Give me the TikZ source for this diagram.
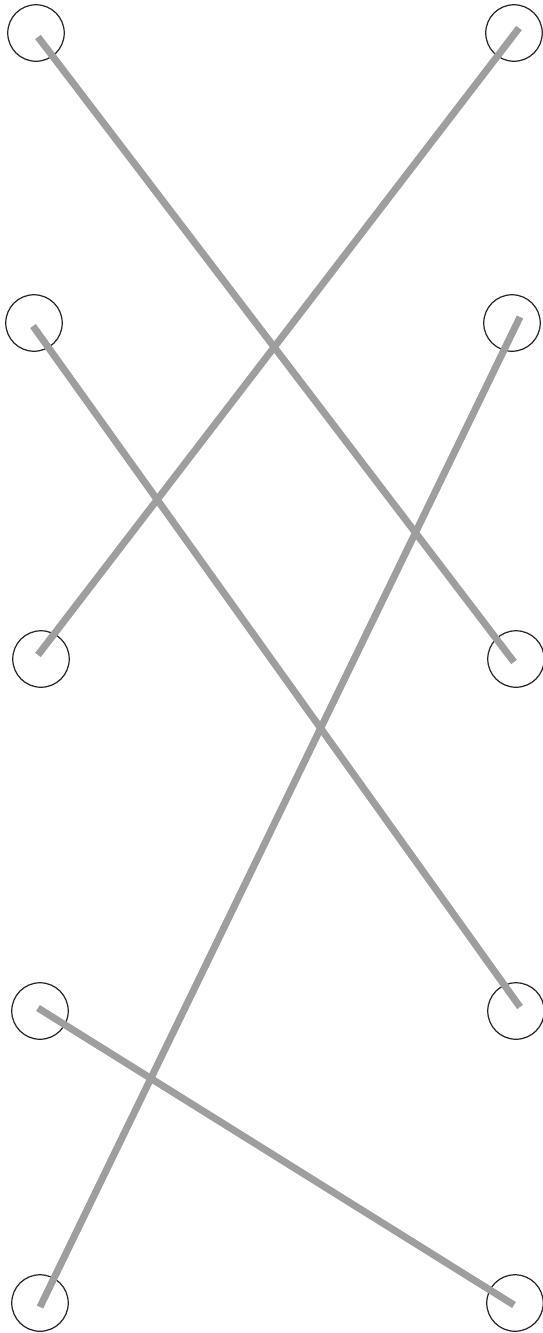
\documentclass[tikz,border=0pt]{standalone}
\usepackage{tikz}
\definecolor{wiregray}{RGB}{158,158,158}

\begin{document}
\begin{tikzpicture}[
    x=0.02cm, y=-0.02cm,
    pin/.style={circle, draw=black!85, line width=0.7pt, minimum size=1.13cm, inner sep=0pt},
    wire/.style={draw=wiregray, line width=4pt}
]
\useasboundingbox (0,0) rectangle (543,1333);
% left column
\node[pin] (l1) at (36,33) {};
\node[pin] (l2) at (34,323) {};
\node[pin] (l3) at (41,659) {};
\node[pin] (l4) at (40,1011) {};
\node[pin] (l5) at (40,1303) {};
% right column
\node[pin] (r1) at (514,33) {};
\node[pin] (r2) at (512,323) {};
\node[pin] (r3) at (516,659) {};
\node[pin] (r4) at (516,1011) {};
\node[pin] (r5) at (515,1303) {};
% wire ends
\coordinate (l1e) at (38,37);
\coordinate (l2e) at (33,326);
\coordinate (l3e) at (38,655);
\coordinate (l4e) at (38,1008);
\coordinate (l5e) at (40,1307);
\coordinate (r1e) at (519,28);
\coordinate (r2e) at (520,317);
\coordinate (r3e) at (514,662);
\coordinate (r4e) at (520,1007);
\coordinate (r5e) at (514,1305);
% wires
\draw[wire] (l1e) -- (r3e);
\draw[wire] (r1e) -- (l3e);
\draw[wire] (l2e) -- (r4e);
\draw[wire] (r2e) -- (l5e);
\draw[wire] (l4e) -- (r5e);
\end{tikzpicture}
\end{document}
